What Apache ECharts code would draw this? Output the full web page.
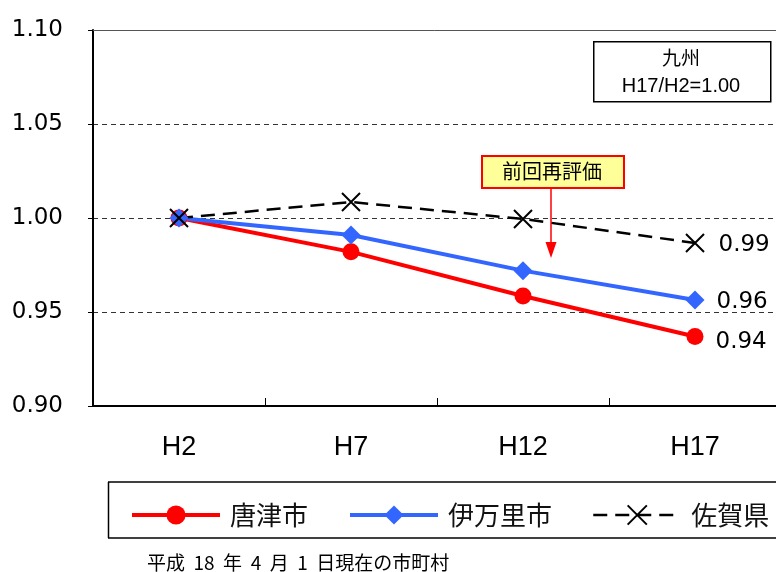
<!DOCTYPE html>
<html>
<head>
<meta charset="utf-8">
<script src="https://cdn.jsdelivr.net/npm/echarts@6/dist/echarts.min.js"></script>
<style>
  html, body { margin: 0; padding: 0; background: #fff; overflow: hidden; }
  #chart { width: 776px; height: 572px; }
</style>
</head>
<body>
<div id="chart"></div>
<script>
// Survey years (Heisei) and index values relative to H2 = 1.00
const categories = ['H2', 'H7', 'H12', 'H17'];
const karatsu = [1.000, 0.982, 0.9585, 0.937];
const imari = [1.000, 0.991, 0.972, 0.9564];
const saga = [1.000, 1.0085, 0.9995, 0.9867];
const seriesNames = ['唐津市', '伊万里市', '佐賀県'];
const yTicks = { min: 0.90, max: 1.10, interval: 0.05 };

const chart = echarts.init(document.getElementById('chart'), null, { renderer: 'canvas' });

const numFont = 'DejaVu Sans';
const cjkFont = '"Noto Sans CJK JP", "Noto Sans", sans-serif';
const crossPath = 'path://M0,0L10,10M10,0L0,10';

// value label on the last point of each line
function endLabel(offsetY) {
  return {
    show: true,
    position: 'right',
    distance: 12,
    offset: [0, offsetY],
    fontFamily: numFont,
    fontSize: 23,
    color: '#000',
    formatter: p => (p.dataIndex === categories.length - 1 ? p.value.toFixed(2) : '')
  };
}

chart.setOption({
  animation: false,
  backgroundColor: '#fff',
  grid: {
    left: 93, top: 30, width: 688, height: 376,
    outerBoundsMode: 'none',
    show: false
  },
  legend: {
    left: 130, top: 502, width: 760, padding: 0,
    itemWidth: 88, itemHeight: 24, itemGap: 40,
    textStyle: { fontFamily: cjkFont, fontSize: 26, color: '#111', padding: [0, 0, 0, 5] },
    data: [
      { name: seriesNames[0], lineStyle: { width: 4 } },
      { name: seriesNames[1], lineStyle: { width: 4 } },
      { name: seriesNames[2], lineStyle: { width: 2.5 } }
    ]
  },
  xAxis: [
    {
      type: 'category',
      data: categories,
      boundaryGap: true,
      axisLine: { lineStyle: { color: '#000', width: 2 } },
      axisTick: { show: true, inside: true, length: 8, lineStyle: { color: '#000', width: 1 } },
      axisLabel: {
        margin: 28,
        fontFamily: '"Liberation Sans Narrow", "Liberation Sans", sans-serif',
        fontSize: 27,
        color: '#000'
      },
      splitLine: { show: false }
    },
    {
      // top edge of the plot frame
      type: 'category',
      data: categories,
      position: 'top',
      axisLine: { lineStyle: { color: '#555', width: 1 } },
      axisTick: { show: false },
      axisLabel: { show: false },
      splitLine: { show: false }
    }
  ],
  yAxis: {
    type: 'value',
    min: yTicks.min, max: yTicks.max, interval: yTicks.interval,
    axisLine: { show: true, lineStyle: { color: '#000', width: 2 } },
    axisTick: { show: true, inside: false, length: 5, lineStyle: { color: '#000' } },
    axisLabel: {
      margin: 30,
      fontFamily: numFont,
      fontSize: 23,
      color: '#000',
      formatter: v => v.toFixed(2)
    },
    splitLine: { show: true, lineStyle: { color: '#333', width: 1, type: [5, 4] } }
  },
  series: [
    {
      name: seriesNames[0],
      type: 'line',
      data: karatsu,
      symbol: 'circle', symbolSize: 17,
      lineStyle: { color: '#FF0000', width: 4 },
      itemStyle: { color: '#FF0000' },
      label: endLabel(6)
    },
    {
      name: seriesNames[1],
      type: 'line',
      data: imari,
      symbol: 'diamond', symbolSize: [19, 19],
      lineStyle: { color: '#3366FF', width: 4 },
      itemStyle: { color: '#3366FF' },
      label: endLabel(2)
    },
    {
      name: seriesNames[2],
      type: 'line',
      data: saga,
      symbol: crossPath, symbolSize: 18,
      lineStyle: { color: '#000', width: 2.5, type: [14, 8] },
      itemStyle: { color: 'none', borderColor: '#000', borderWidth: 2 },
      label: endLabel(2)
    }
  ],
  graphic: [
    // region note box
    {
      type: 'rect', left: 593, top: 41,
      shape: { width: 177, height: 60 },
      style: { fill: '#fff', stroke: '#000', lineWidth: 1.5 }, z: 10
    },
    {
      type: 'text', x: 681, y: 58,
      style: { text: '九州', fontFamily: cjkFont, fontSize: 19, fill: '#000', align: 'center', verticalAlign: 'middle' }, z: 11
    },
    {
      type: 'text', x: 681, y: 86,
      style: { text: 'H17/H2=1.00', fontFamily: '"Liberation Sans", Arial, sans-serif', fontSize: 20, fill: '#000', align: 'center', verticalAlign: 'middle' }, z: 11
    },
    // callout
    {
      type: 'rect', left: 481, top: 155,
      shape: { width: 142, height: 32 },
      style: { fill: '#FFFF99', stroke: '#FF0000', lineWidth: 2 }, z: 10
    },
    {
      type: 'text', x: 552, y: 171,
      style: { text: '前回再評価', fontFamily: cjkFont, fontSize: 20, fill: '#000', align: 'center', verticalAlign: 'middle' }, z: 11
    },
    {
      type: 'line',
      shape: { x1: 551, y1: 188, x2: 551, y2: 246 },
      style: { stroke: '#FF0000', lineWidth: 1.5 }, z: 10
    },
    {
      type: 'polygon',
      shape: { points: [[545.5, 242], [556.5, 242], [551, 258]] },
      style: { fill: '#FF0000' }, z: 10
    },
    // legend frame
    {
      type: 'line',
      shape: { x1: 108, y1: 482, x2: 776, y2: 482 },
      style: { stroke: '#000', lineWidth: 1.5 }
    },
    {
      type: 'line',
      shape: { x1: 108, y1: 538, x2: 776, y2: 538 },
      style: { stroke: '#000', lineWidth: 1.5 }
    },
    {
      type: 'line',
      shape: { x1: 108.5, y1: 482, x2: 108.5, y2: 538 },
      style: { stroke: '#000', lineWidth: 1.5 }
    },
    // footnote
    {
      type: 'text', x: 147, y: 563,
      style: { text: '平成  18  年  4  月  1  日現在の市町村', fontFamily: cjkFont, fontSize: 19, fill: '#000', verticalAlign: 'middle' }
    }
  ]
});
</script>
</body>
</html>
